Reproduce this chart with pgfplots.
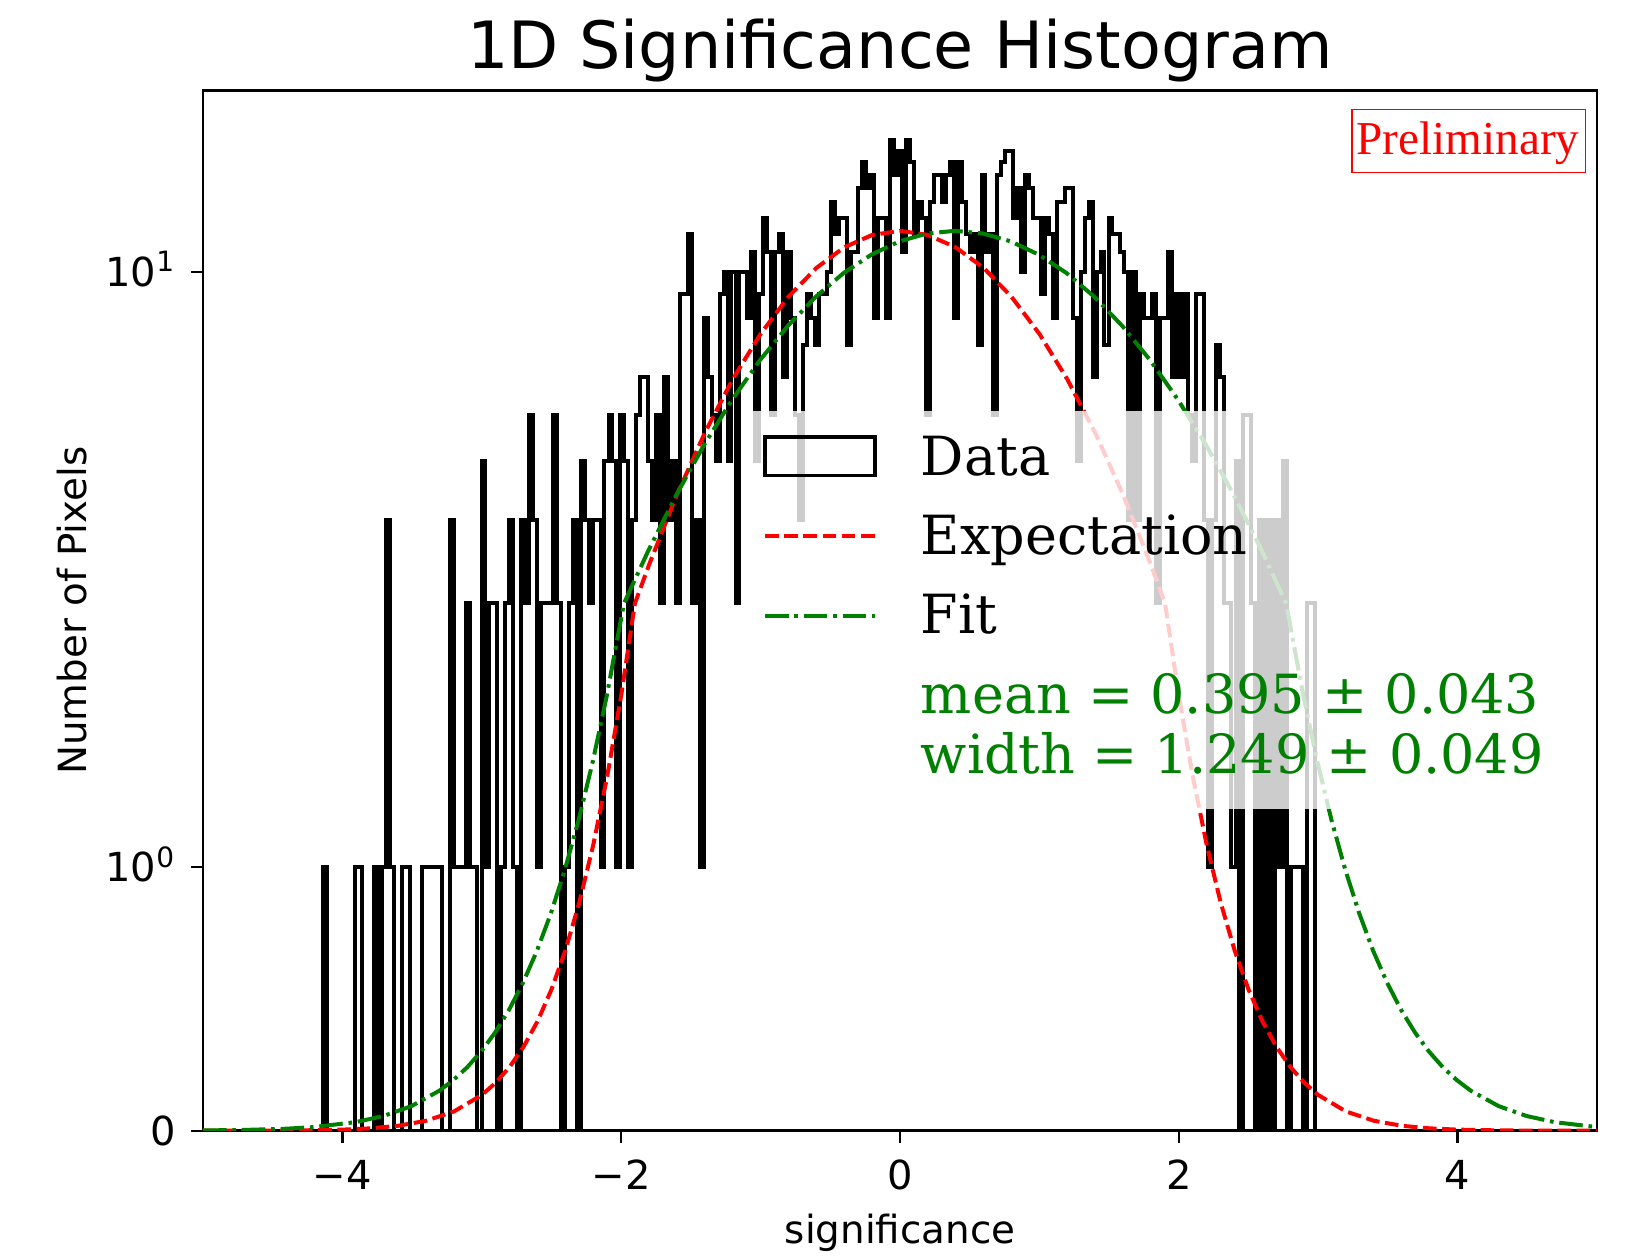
\documentclass[border=0pt]{standalone}
\usepackage{fontspec}
\setmainfont{DejaVu Sans}
\newfontfamily\legfont{DejaVu Serif}
\newfontfamily\prelimfont{Liberation Serif}
\usepackage{pgfplots}
\usepackage{pgfplotstable}
\pgfplotsset{compat=1.18}
\definecolor{mplgreen}{rgb}{0,0.5,0}
\definecolor{mplred}{rgb}{1,0,0}

% histogram: left bin edge and count (last row closes the outline)
\pgfplotstableread{
x c
-4.141 0
-4.141 1
-4.113 0
-4.084 0
-4.056 0
-4.027 0
-3.999 0
-3.970 0
-3.942 0
-3.913 1
-3.885 1
-3.856 0
-3.828 0
-3.799 0
-3.771 1
-3.742 0
-3.714 1
-3.686 3
-3.657 1
-3.629 0
-3.600 0
-3.572 1
-3.543 1
-3.515 0
-3.486 0
-3.458 0
-3.429 1
-3.401 1
-3.372 1
-3.344 1
-3.315 1
-3.287 0
-3.259 0
-3.230 3
-3.202 1
-3.173 1
-3.145 1
-3.116 2
-3.088 1
-3.059 1
-3.031 0
-3.002 4
-2.974 1
-2.945 2
-2.917 2
-2.888 0
-2.860 1
-2.831 2
-2.803 3
-2.775 1
-2.746 0
-2.718 3
-2.689 2
-2.661 5
-2.632 3
-2.604 1
-2.575 2
-2.547 2
-2.518 2
-2.490 5
-2.461 2
-2.433 0
-2.405 1
-2.376 2
-2.348 3
-2.319 0
-2.291 4
-2.262 3
-2.234 2
-2.205 3
-2.177 3
-2.148 1
-2.120 4
-2.091 5
-2.063 4
-2.034 1
-2.006 5
-1.977 4
-1.949 1
-1.921 3
-1.892 5
-1.864 6
-1.835 6
-1.807 4
-1.778 3
-1.750 5
-1.721 2
-1.693 6
-1.664 3
-1.636 4
-1.607 2
-1.579 9
-1.550 9
-1.522 12
-1.493 2
-1.465 3
-1.437 1
-1.408 8
-1.380 6
-1.351 5
-1.323 4
-1.294 9
-1.266 10
-1.237 4
-1.209 10
-1.180 2
-1.152 10
-1.123 10
-1.095 8
-1.066 11
-1.038 4
-1.010 9
-0.981 13
-0.953 11
-0.924 5
-0.896 11
-0.867 12
-0.839 6
-0.810 11
-0.782 8
-0.753 5
-0.725 3
-0.696 7
-0.668 9
-0.639 8
-0.611 7
-0.583 9
-0.554 9
-0.526 10
-0.497 14
-0.469 12
-0.440 13
-0.412 13
-0.383 7
-0.355 11
-0.326 11
-0.298 15
-0.269 17
-0.241 15
-0.212 16
-0.184 8
-0.155 13
-0.127 13
-0.099 8
-0.070 19
-0.042 16
-0.013 18
0.015 11
0.044 19
0.072 17
0.101 12
0.129 14
0.158 13
0.186 5
0.215 14
0.243 16
0.272 16
0.300 14
0.328 16
0.357 17
0.385 8
0.414 17
0.442 14
0.471 12
0.499 11
0.528 12
0.556 7
0.585 16
0.613 11
0.642 12
0.670 5
0.699 16
0.727 17
0.755 18
0.784 18
0.812 13
0.841 15
0.869 10
0.898 16
0.926 15
0.955 13
0.983 13
1.012 9
1.040 13
1.069 12
1.097 8
1.126 14
1.154 14
1.183 15
1.211 15
1.239 8
1.268 4
1.296 10
1.325 13
1.353 14
1.382 6
1.410 10
1.439 11
1.467 7
1.496 13
1.524 12
1.553 12
1.581 11
1.610 10
1.638 3
1.666 10
1.695 3
1.723 9
1.752 8
1.780 8
1.809 9
1.837 2
1.866 8
1.894 8
1.923 11
1.951 6
1.980 9
2.008 6
2.037 9
2.065 5
2.093 4
2.122 9
2.150 9
2.179 3
2.207 1
2.236 3
2.264 7
2.293 6
2.321 2
2.350 2
2.378 1
2.407 4
2.435 0
2.464 5
2.492 5
2.520 2
2.549 0
2.577 3
2.606 0
2.634 3
2.663 0
2.691 3
2.720 1
2.748 4
2.777 0
2.805 1
2.834 1
2.862 1
2.891 0
2.919 2
2.948 2
2.976 0
}\histdata

\begin{document}
\begin{tikzpicture}
\useasboundingbox (-50.75pt,-31.575pt) rectangle (356.25pt,282.675pt);
\begin{axis}[
  at={(0,0)}, anchor=south west,
  scale only axis, width=348.5pt, height=260pt,
  xmin=-5, xmax=5, ymin=0, ymax=24.08,
  y coord trafo/.code={\pgfmathparse{(#1<=2)?(0.5555556*#1):(1.1111111+ln(max(#1,2)/2)/2.302585)}},
  ytick={0,1,10},
  yticklabels={0,10\textsuperscript{0},10\textsuperscript{1}},
  xtick={-4,-2,0,2,4},
  xticklabels={−4,−2,0,2,4},
  tick align=outside, xtick pos=bottom, ytick pos=left,
  major tick length=3pt,
  every tick/.style={black, line width=0.6pt},
  axis line style={line width=0.65pt},
  tick label style={font=\fontsize{10}{12}\selectfont},
  xticklabel style={anchor=base, yshift=-11.65pt, inner sep=0pt},
  yticklabel style={anchor=base east, xshift=-3.5pt, yshift=-3.65pt, inner sep=0pt},
  title={1D Significance Histogram},
  every axis title/.style={at={(rel axis cs:0.5,1)}, anchor=base, yshift=5.6pt, font=\fontsize{16.3}{19}\selectfont},
  xlabel={significance},
  ylabel={Number of Pixels},
  every axis x label/.style={at={(rel axis cs:0.5,0)}, anchor=base, yshift=-28.15pt, font=\fontsize{9.7}{12}\selectfont},
  every axis y label/.style={at={(rel axis cs:0,0.5)}, rotate=90, anchor=base, yshift=29pt, font=\fontsize{9.7}{12}\selectfont},
]
\addplot[const plot, black, line width=1.0pt, mark=none] table[x=x, y=c] {\histdata};

\addplot[mplred, line width=1.0pt, mark=none, dash pattern=on 3.4pt off 1.4pt] coordinates {
(-5,0.00005) (-4.6,0.00031) (-4.3,0.00118) (-4.0,0.00409) (-3.8,0.00893) (-3.6,0.0187)
(-3.4,0.0377) (-3.2,0.0729) (-3.0,0.1355) (-2.9,0.1820) (-2.8,0.2421) (-2.7,0.3187)
(-2.6,0.4154) (-2.5,0.5360) (-2.4,0.6848) (-2.3,0.8663) (-2.2,1.085) (-2.1,1.345)
(-2.0,1.651) (-1.9017,2.0) (-1.8,2.414) (-1.6,3.392) (-1.4,4.579) (-1.2,5.938)
(-1.0,7.400) (-0.8,8.859) (-0.6,10.190) (-0.4,11.262) (-0.2,11.958) (0,12.2)
(0.2,11.958) (0.4,11.262) (0.6,10.190) (0.8,8.859) (1.0,7.400) (1.2,5.938)
(1.4,4.579) (1.6,3.392) (1.8,2.414) (1.9017,2.0) (2.0,1.651) (2.1,1.345)
(2.2,1.085) (2.3,0.8663) (2.4,0.6848) (2.5,0.5360) (2.6,0.4154) (2.7,0.3187)
(2.8,0.2421) (2.9,0.1820) (3.0,0.1355) (3.2,0.0729) (3.4,0.0377) (3.6,0.0187)
(3.8,0.00893) (4.0,0.00409) (4.3,0.00118) (4.6,0.00031) (5,0.00005)
};

\addplot[mplgreen, line width=1.0pt, mark=none, dash pattern=on 5.9pt off 1.45pt on 0.9pt off 1.45pt] coordinates {
(-5.0,0.00108) (-4.705,0.00292) (-4.405,0.00757) (-4.21,0.0136) (-3.905,0.0326)
(-3.705,0.0558) (-3.505,0.0932) (-3.305,0.1516) (-3.205,0.1916) (-3.105,0.2405)
(-3.005,0.3001) (-2.905,0.3720) (-2.805,0.4581) (-2.705,0.5606) (-2.605,0.6817)
(-2.505,0.8236) (-2.405,0.9887) (-2.305,1.1793) (-2.205,1.3976) (-2.105,1.6458)
(-1.9803,2.0) (-1.805,2.586) (-1.605,3.385) (-1.405,4.319) (-1.205,5.371)
(-1.005,6.510) (-0.805,7.690) (-0.605,8.854) (-0.405,9.938) (-0.205,10.870)
(-0.005,11.590) (0.195,12.045) (0.395,12.2) (0.595,12.045) (0.795,11.590)
(0.995,10.870) (1.195,9.938) (1.395,8.854) (1.595,7.690) (1.795,6.510)
(1.995,5.371) (2.195,4.319) (2.395,3.385) (2.595,2.586) (2.7703,2.0)
(2.895,1.6458) (2.995,1.3976) (3.095,1.1793) (3.195,0.9887) (3.295,0.8236)
(3.395,0.6817) (3.495,0.5606) (3.595,0.4581) (3.695,0.3720) (3.795,0.3001)
(3.895,0.2405) (3.995,0.1916) (4.095,0.1516) (4.295,0.0932) (4.495,0.0558)
(4.695,0.0326) (5.0,0.0136)
};

% legend (semi-transparent white frame, as in the reference)
\fill[white, opacity=0.8] (rel axis cs:0.3924,0.3093) rectangle (rel axis cs:0.9770,0.6920);
\draw[black, line width=0.85pt] (rel axis cs:0.4032,0.6300) rectangle (rel axis cs:0.4821,0.6670);
\draw[mplred, line width=1.0pt, dash pattern=on 3.4pt off 1.4pt] (rel axis cs:0.4032,0.5718) -- (rel axis cs:0.4821,0.5718);
\draw[mplgreen, line width=1.0pt, dash pattern=on 5.9pt off 1.45pt on 0.9pt off 1.45pt] (rel axis cs:0.4032,0.4949) -- (rel axis cs:0.4821,0.4949);
\begin{scope}[every node/.style={anchor=base west, inner sep=0pt, font=\legfont\fontsize{13.5}{16}\selectfont}]
\node at (rel axis cs:0.5144,0.6305) {Data};
\node at (rel axis cs:0.5144,0.5545) {Expectation};
\node at (rel axis cs:0.5144,0.4783) {Fit};
\node[text=mplgreen] at (rel axis cs:0.5144,0.4007) {mean = 0.395 ± 0.043};
\node[text=mplgreen] at (rel axis cs:0.5144,0.3430) {width = 1.249 ± 0.049};
\end{scope}

% Preliminary stamp
\draw[mplred, line width=0.3pt] (rel axis cs:0.8242,0.9212) rectangle (rel axis cs:0.9918,0.9821);
\node[anchor=base, inner sep=0pt, text=mplred, font=\prelimfont\fontsize{11.8}{14}\selectfont] at (rel axis cs:0.9075,0.9382) {Preliminary};
\end{axis}
\end{tikzpicture}
\end{document}
